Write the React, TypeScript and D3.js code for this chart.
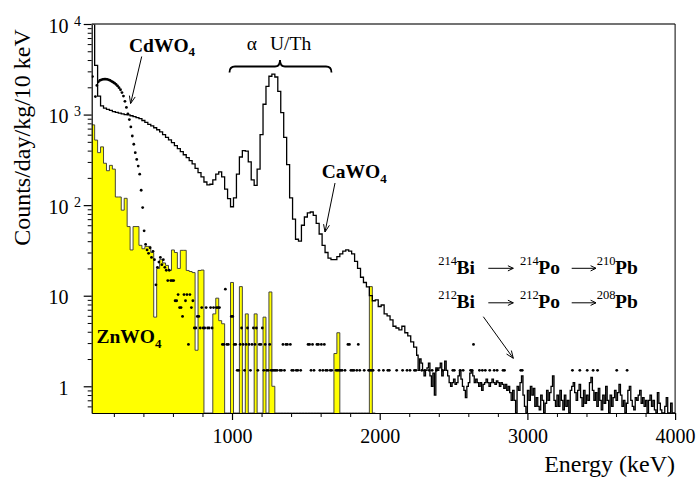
import React, { useEffect, useRef } from "react";
import * as d3 from "d3";

// CaWO4 spectrum, 20 keV bins starting at 50 keV
const caLow = [
  20000, 3500, 1600, 1250, 1180, 1140, 1110, 1080, 1060, 1040,
  1020, 1000, 990, 970, 950, 925, 900, 860, 820, 780,
  750, 715, 680, 645, 600, 560, 525, 490, 455, 420,
  390, 360, 335, 310, 285, 255, 228, 205, 180, 167,
  170, 190, 220, 233, 205, 150, 118, 96, 120, 220,
  340, 400, 395, 300, 190, 165, 250, 600, 1300, 2050,
  2650, 2800, 2600, 1800, 1050, 560, 280, 120, 70, 42,
  40, 60, 74, 82, 84, 77, 63, 48, 36, 30,
  26, 25, 25, 27, 29, 31, 32, 31, 29, 24,
  20, 16, 14, 12.5, 10, 8.8, 9.0, 7.6, 7.9, 6.3,
  6.0, 5.4, 4.6, 4.4, 4.2, 4.6, 3.9, 3.6, 3.1, 2.7,
];

// CaWO4 spectrum, 10 keV bins starting at 2250 keV
const caHigh = [
  2.2, 1.5, 2.0, 1.8, 1.5, 1.3, 1.5, 1.6, 1.8, 1.3,
  1.0, 1.4, 0.8, 1.6, 1.5, 1.6, 1.8, 1.3, 1.5, 1.9,
  1.5, 1.3, 1.1, 1.0, 1.1, 1.2, 1.05, 1.1, 1.3, 1.5,
  1.2, 1.0, 0.9, 0.75, 1.0, 1.1, 1.4, 1.5, 1.3, 1.1,
  1.2, 1.1, 1.0, 1.1, 0.9, 1.05, 1.1, 1.2, 1.1, 1.0,
  1.1, 1.2, 1.1, 1.05, 1.15, 1.1, 1.0, 1.1, 1.05, 0.95,
  1.05, 0.9, 1.0, 0.85, 0.7, 0.9, 0.7, 0, 1.0, 0.9,
  1.1, 1.3, 0.8, 0.6, 0, 0.9, 0.7, 1.0, 0.8, 0.95,
  0.6, 0.75, 0.6, 0.55, 0.8, 0.7, 0, 0.65, 0.9, 0.7,
  0.85, 1.0, 1.3, 0.7, 0.6, 0.8, 0.6, 0.9, 0.7, 0.55,
  0.8, 0.6, 0.7, 0, 0.9, 1.0, 1.1, 0.85, 0.7, 0.9,
  1.05, 0.75, 0.6, 0.9, 0.65, 0.8, 0.7, 1.1, 1.25, 0.9,
  0.7, 0.85, 0.6, 0.95, 0.7, 0.55, 0.8, 0.65, 1.0, 0.7,
  0, 0.8, 0.6, 0.75, 0.9, 0.7, 0.85, 1.05, 0.8, 0.6,
  0.7, 0, 0.65, 0.9, 1.0, 0.7, 0.6, 0.55, 0.75, 0.7,
  0.8, 0.9, 0.65, 0.75, 0.6, 0.7, 0, 0.7, 0.8, 0.6,
  0.7, 0.55, 0, 0.85, 0.65, 0.55, 0, 0, 0.6, 0.75,
  0, 0, 0.65, 0, 0,
];

// ZnWO4 spectrum, 20 keV bins starting at 50 keV (0 = empty bin)
const znwo4 = [
  770, 523, 380, 440, 290, 240, 275, 250, 123, 123,
  88, 119, 58, 32, 58, 58, 36, 33, 35, 35,
  30, 5.8, 20, 25, 23, 21.6, 19, 32, 30, 20,
  31.7, 31.7, 19, 18.5, 18, 2.5, 19, 19.2, 0, 0,
  0, 6.3, 9.4, 5.3, 4.9, 0, 0, 14, 0, 0,
  12.6, 0, 6.3, 0, 0, 6.3, 0, 0, 5.8, 0,
  11, 1.0, 0, 0, 0, 0, 0, 0, 0, 0,
  0, 0, 0, 0, 0, 0, 0, 0, 0, 0,
  0, 0, 2.3, 3.9, 0, 0, 0, 0, 0, 0,
  0, 0, 0, 0, 12.6, 0,
];

// CdWO4 spectrum, 10 keV bins starting at 50 keV (0 = empty bin, no dot)
const cdwo4 = [
  2630, 0, 1580, 2100, 2300, 2380, 2420, 2450, 2460, 2460, 2450, 2420, 2380, 2330, 2280, 2220, 2150, 2070, 1980, 1880,
  1750, 1600, 1400, 1200, 1020, 880, 730, 580, 470, 380, 320, 270, 220, 146, 94, 52, 36.8, 32, 29.4, 33.8,
  26.5, 30.9, 25, 13.2, 20.6, 23.5, 26.5, 22, 25, 20.6, 19.1, 14.7, 19.1, 14.7, 14.7, 14.7, 8.8, 8.8, 10.3, 7.4,
  7.4, 5.9, 10.3, 8.8, 10.3, 2.9, 10.3, 7.4, 8.8, 4.4, 4.4, 5.9, 5.9, 4.4, 7.4, 4.4, 4.4, 7.4, 4.4, 4.4,
  7.4, 4.4, 7.4, 0, 7.4, 7.4, 7.4, 0, 2.9, 2.9, 11.8, 2.9, 2.9, 0, 5.9, 5.9, 2.9, 2.9, 1.5, 1.5,
  2.9, 4.4, 2.9, 1.5, 2.9, 4.4, 2.9, 1.5, 2.9, 4.4, 2.9, 4.4, 1.5, 2.9, 2.9, 4.4, 1.5, 2.9, 1.5, 1.5,
  2.9, 1.5, 1.5, 1.5, 1.5, 1.5, 0, 1.5, 1.5, 2.9, 1.5, 2.9, 2.9, 0, 2.9, 1.5, 1.5, 0, 1.5, 1.5,
  0, 1.5, 0, 0, 0, 0, 2.9, 2.9, 1.5, 2.9, 1.5, 0, 2.9, 2.9, 1.5, 2.9, 1.5, 2.9, 1.5, 1.5,
  0, 1.5, 1.5, 0, 0, 1.5, 1.5, 1.5, 1.5, 1.5, 0, 1.5, 0, 2.9, 2.9, 1.5, 1.5, 1.5, 0, 1.5,
  2.9, 1.5, 0, 0, 1.5, 0, 0, 1.5, 1.5, 1.5, 1.5, 0, 0, 0, 1.5, 0, 0, 1.5, 0, 0,
  1.5, 1.5, 0, 0, 0, 0, 1.5, 0, 0, 0, 1.5, 0, 0, 1.5, 0, 1.5, 0, 0, 1.5, 1.5,
  0, 0, 0, 1.5, 0, 1.5, 0, 0, 1.5, 0, 1.5, 0, 0, 1.5, 0, 0, 0, 1.5, 0, 0,
  0, 0, 0, 0, 1.5, 1.5, 0, 0, 0, 1.5, 0, 1.5, 0, 0, 0, 0, 1.5, 1.5, 2.9, 0,
  0, 0, 1.5, 0, 1.5, 0, 1.5, 0, 0, 1.5, 0, 0, 1.5, 0, 1.5, 0, 0, 0, 1.5, 1.5,
  0, 0, 0, 0, 0, 0, 0, 0, 0, 0, 1.5, 1.5, 0, 0, 0, 0, 0, 0, 0, 0,
  0, 0, 0, 0, 0, 0, 0, 0, 0, 0, 0, 0, 0, 0, 0, 0, 0, 0, 0, 0,
  0, 0, 0, 0, 0, 1.5, 0, 0, 0, 0, 1.5, 0, 0, 0, 0, 1.5, 0, 0, 0, 1.5,
  0, 0, 1.5, 0, 0, 0, 0, 0, 0, 0, 0, 0, 0, 0, 0, 1.5, 0, 0, 0, 0,
  0, 0, 1.5,
];

const xTicks = [1000, 2000, 3000, 4000];
const yDecades = [0, 1, 2, 3, 4];

const FONT = "Liberation Serif, DejaVu Serif, serif";
const plot = { left: 91.7, right: 675.1, top: 24, bottom: 413 };
const Y_MIN = 0.507;

const x = d3.scaleLinear().domain([50, 4000]).range([plot.left, plot.right]);
const y = d3.scaleLog().domain([Y_MIN, 1e4]).range([plot.bottom, plot.top]);

function Arrow({ x1, y1, x2, y2, head = 8, spread = 0.38 }) {
  const a = Math.atan2(y2 - y1, x2 - x1);
  const p1 = [x2 - head * Math.cos(a - spread), y2 - head * Math.sin(a - spread)];
  const p2 = [x2 - head * Math.cos(a + spread), y2 - head * Math.sin(a + spread)];
  return (
    <g stroke="#000" strokeWidth={1} fill="none">
      <line x1={x1} y1={y1} x2={x2} y2={y2} />
      <path d={`M${p1[0]},${p1[1]} L${x2},${y2} L${p2[0]},${p2[1]}`} />
    </g>
  );
}

function Nuclide({ x0, base, mass, name }) {
  return (
    <g style={{ fontFamily: FONT }}>
      <text x={x0} y={base - 9} fontSize={12.5}>{mass}</text>
      <text x={x0 + 18.3} y={base} fontSize={19.5} fontWeight="bold">{name}</text>
    </g>
  );
}

export default function App() {
  const gRef = useRef(null);

  useEffect(() => {
    drawChart();
  }, []);

  function drawChart() {
    const g = d3.select(gRef.current);
    g.selectAll("*").remove();

    const yv = (v) => y(Math.min(Math.max(v, Y_MIN), 1e4));
    const steps = (values, e0, w) => values.map((v, i) => [e0 + i * w, v]);

    const caPts = [...steps(caLow, 50, 20), ...steps(caHigh, 2250, 10)];
    caPts.push([4000, caHigh[caHigh.length - 1]]);
    const znPts = steps(znwo4, 50, 20);
    znPts.push([50 + znwo4.length * 20, 0]);
    const cdPts = cdwo4.map((v, i) => [55 + i * 10, v]).filter((d) => d[1] > 0);

    g.append("clipPath")
      .attr("id", "plot-clip")
      .append("rect")
      .attr("x", plot.left)
      .attr("y", plot.top)
      .attr("width", plot.right - plot.left)
      .attr("height", plot.bottom - plot.top);

    const plotG = g.append("g").attr("clip-path", "url(#plot-clip)");

    const area = d3
      .area()
      .x((d) => x(d[0]))
      .y0(plot.bottom)
      .y1((d) => yv(d[1]))
      .curve(d3.curveStepAfter);
    const line = d3
      .line()
      .x((d) => x(d[0]))
      .y((d) => yv(d[1]))
      .curve(d3.curveStepAfter);

    // ZnWO4 filled histogram
    plotG.append("path").datum(znPts).attr("fill", "#ffff00").attr("d", area);
    plotG
      .append("path")
      .datum(znPts)
      .attr("fill", "none")
      .attr("stroke", "#333")
      .attr("stroke-width", 0.9)
      .attr("d", line);

    // CaWO4 histogram line
    plotG
      .append("path")
      .datum(caPts)
      .attr("fill", "none")
      .attr("stroke", "#000")
      .attr("stroke-width", 1.3)
      .attr("d", line);

    // CdWO4 dots
    plotG
      .selectAll("circle")
      .data(cdPts)
      .join("circle")
      .attr("cx", (d) => x(d[0]))
      .attr("cy", (d) => yv(d[1]))
      .attr("r", 1.4)
      .attr("fill", "#000");

    // x axis
    const xAxis = g
      .append("g")
      .attr("transform", `translate(0,${plot.bottom})`)
      .call(
        d3.axisBottom(x).tickValues(xTicks).tickSize(7).tickSizeOuter(0).tickPadding(9).tickFormat(d3.format("d"))
      );
    xAxis.attr("font-family", null).attr("font-size", 20);
    xAxis.selectAll("text").style("font-family", FONT);
    xAxis.selectAll("line").attr("stroke-width", 1.2);
    xAxis.select(".domain").attr("stroke-width", 1.2);

    const xMinor = d3.range(200, 4000, 200).filter((v) => v % 1000 !== 0);
    const xm = g
      .append("g")
      .attr("transform", `translate(0,${plot.bottom})`)
      .call(d3.axisBottom(x).tickValues(xMinor).tickSize(4).tickSizeOuter(0).tickFormat(() => ""));
    xm.select(".domain").remove();

    // y axis
    const yAxis = g
      .append("g")
      .attr("transform", `translate(${plot.left},0)`)
      .call(
        d3.axisLeft(y).tickValues(yDecades.map((d) => Math.pow(10, d))).tickSize(8).tickSizeOuter(0).tickFormat(() => "")
      );
    yAxis.selectAll("line").attr("stroke-width", 1.2);
    yAxis.select(".domain").attr("stroke-width", 1.2);

    const yMinor = [];
    for (let d = -1; d < 4; d++) {
      for (let k = 2; k <= 9; k++) {
        const v = k * Math.pow(10, d);
        if (v >= Y_MIN && v <= 1e4) yMinor.push(v);
      }
    }
    const ym = g
      .append("g")
      .attr("transform", `translate(${plot.left},0)`)
      .call(d3.axisLeft(y).tickValues(yMinor).tickSize(4).tickSizeOuter(0).tickFormat(() => ""));
    ym.select(".domain").remove();

    // frame top / right
    g.append("line")
      .attr("x1", plot.left)
      .attr("x2", plot.right)
      .attr("y1", plot.top)
      .attr("y2", plot.top)
      .attr("stroke", "#444")
      .attr("stroke-width", 1.5);
    g.append("line")
      .attr("x1", plot.right)
      .attr("x2", plot.right)
      .attr("y1", plot.top)
      .attr("y2", plot.bottom)
      .attr("stroke", "#000")
      .attr("stroke-width", 1);
  }

  return (
    <svg
      width={698}
      height={481}
      style={{ position: "absolute", left: 0, top: 0, background: "#fff", fontFamily: FONT }}
    >
      <rect width={698} height={481} fill="#fff" />
      <g ref={gRef} />

      {/* y tick labels */}
      {yDecades.map((d) => (
        <g key={d}>
          <text x={68.5} y={y(Math.pow(10, d)) + 8.5} fontSize={20} textAnchor="end">
            {d === 0 ? "1" : "10"}
          </text>
          {d >= 2 && (
            <text x={74} y={y(Math.pow(10, d)) + 1.5} fontSize={14}>
              {d}
            </text>
          )}
        </g>
      ))}

      {/* axis titles */}
      <text transform="translate(30,137.5) rotate(-90)" fontSize={24} textAnchor="middle">
        Counts/day/kg/10 keV
      </text>
      <text x={675} y={471.5} fontSize={24} textAnchor="end">
        Energy (keV)
      </text>

      {/* CdWO4 */}
      <text x={129} y={51.5} fontSize={19.5} fontWeight="bold">
        CdWO<tspan fontSize={13} dy={4.5}>4</tspan>
      </text>
      <Arrow x1={141.7} y1={56.5} x2={130.6} y2={103.5} />

      {/* alpha U/Th with brace */}
      <text x={246.7} y={50} fontSize={19.5}>α</text>
      <text x={270} y={50} fontSize={19.5}>U/Th</text>
      <path
        d="M229.5,72.5 Q229.5,66.5 235,66.5 L275,66.5 Q280,66.5 280,60 Q280,66.5 285,66.5 L326,66.5 Q331.5,66.5 331.5,72.5"
        fill="none"
        stroke="#000"
        strokeWidth={1.8}
      />

      {/* CaWO4 */}
      <text x={321.7} y={178.3} fontSize={19.5} fontWeight="bold">
        CaWO<tspan fontSize={13} dy={4.5}>4</tspan>
      </text>
      <Arrow x1={335} y1={183} x2={325} y2={232} />

      {/* ZnWO4 */}
      <text x={96.5} y={343.3} fontSize={19.5} fontWeight="bold">
        ZnWO<tspan fontSize={13} dy={4.5}>4</tspan>
      </text>

      {/* decay chains */}
      <Nuclide x0={438.3} base={274} mass="214" name="Bi" />
      <Arrow x1={488.3} y1={268.3} x2={513.3} y2={268.3} head={6} spread={0.45} />
      <Nuclide x0={520} base={274} mass="214" name="Po" />
      <Arrow x1={571.7} y1={268.3} x2={596} y2={268.3} head={6} spread={0.45} />
      <Nuclide x0={596.8} base={274} mass="210" name="Pb" />

      <Nuclide x0={438.3} base={308} mass="212" name="Bi" />
      <Arrow x1={488.3} y1={302.8} x2={513.3} y2={302.8} head={6} spread={0.45} />
      <Nuclide x0={520} base={308} mass="212" name="Po" />
      <Arrow x1={571.7} y1={302.8} x2={596} y2={302.8} head={6} spread={0.45} />
      <Nuclide x0={596.8} base={308} mass="208" name="Pb" />
      <Arrow x1={483.3} y1={316.7} x2={513.3} y2={358.3} />
    </svg>
  );
}
